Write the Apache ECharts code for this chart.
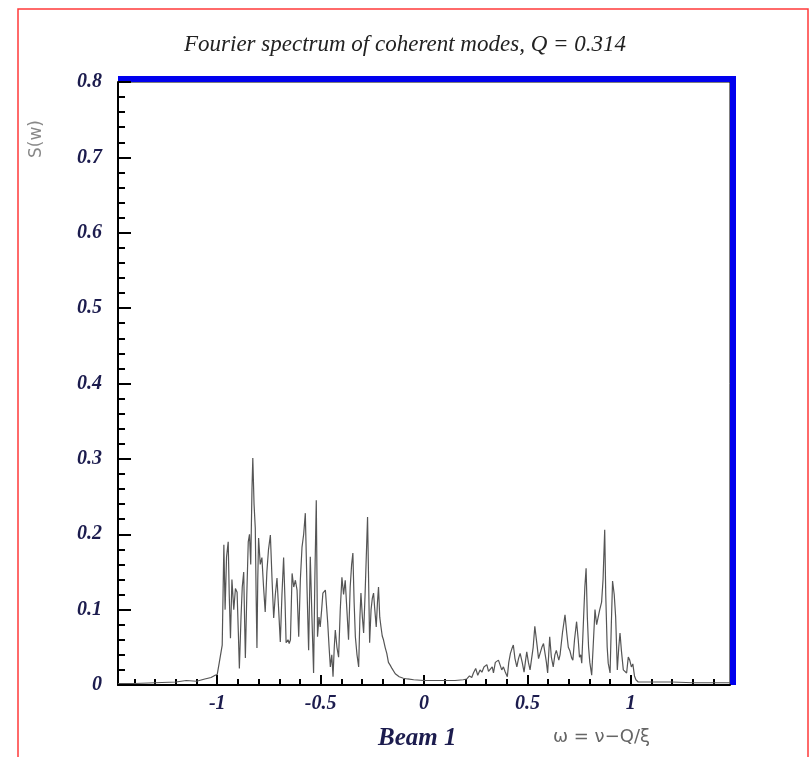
<!DOCTYPE html>
<html>
<head>
<meta charset="utf-8">
<script src="https://cdn.jsdelivr.net/npm/echarts@6/dist/echarts.min.js"></script>
<style>
  html, body { margin: 0; padding: 0; background: #fff; }
  #chart { width: 810px; height: 757px; }
</style>
</head>
<body>
<div id="chart"></div>
<script>
// Spectrum sample points: frequency omega and amplitude S(w)
const omega = [
  -1.48, -1.40, -1.30, -1.20, -1.15, -1.10, -1.06, -1.03, -1.01, -1.00,
  -0.99, -0.976, -0.968, -0.962, -0.955, -0.947, -0.942, -0.936, -0.929, -0.92,
  -0.912, -0.904, -0.898, -0.893, -0.885, -0.879, -0.872, -0.868, -0.864, -0.857,
  -0.850, -0.844, -0.838, -0.832, -0.828, -0.822, -0.816, -0.812, -0.808, -0.804,
  -0.800, -0.792, -0.784, -0.776, -0.768, -0.760, -0.752, -0.743, -0.735, -0.727,
  -0.719, -0.711, -0.703, -0.695, -0.687, -0.679, -0.672, -0.667, -0.658, -0.652,
  -0.646, -0.638, -0.630, -0.622, -0.614, -0.606, -0.598, -0.590, -0.582, -0.574,
  -0.566, -0.558, -0.550, -0.542, -0.534, -0.528, -0.521, -0.515, -0.508, -0.502,
  -0.495, -0.489, -0.477, -0.466, -0.459, -0.453, -0.446, -0.440, -0.434, -0.429,
  -0.421, -0.413, -0.405, -0.397, -0.389, -0.381, -0.373, -0.365, -0.357, -0.350,
  -0.344, -0.338, -0.332, -0.324, -0.316, -0.310, -0.305, -0.298, -0.292, -0.285,
  -0.278, -0.273, -0.268, -0.263, -0.256, -0.250, -0.244, -0.238, -0.231, -0.225,
  -0.220, -0.214, -0.208, -0.202, -0.196, -0.188, -0.180, -0.172, -0.163, -0.155,
  -0.147, -0.139, -0.131, -0.12, -0.10, -0.08, -0.05, 0.0, 0.05, 0.10,
  0.15, 0.19, 0.207, 0.22, 0.231, 0.239, 0.25, 0.26, 0.271, 0.28,
  0.29, 0.304, 0.312, 0.32, 0.33, 0.336, 0.345, 0.36, 0.37, 0.376,
  0.384, 0.392, 0.403, 0.41, 0.418, 0.425, 0.432, 0.44, 0.449, 0.457,
  0.465, 0.475, 0.484, 0.49, 0.497, 0.505, 0.513, 0.521, 0.528, 0.536,
  0.542, 0.548, 0.554, 0.561, 0.57, 0.578, 0.585, 0.592, 0.598, 0.603,
  0.608, 0.616, 0.625, 0.633, 0.64, 0.645, 0.652, 0.658, 0.67, 0.682,
  0.69, 0.698, 0.706, 0.714, 0.72, 0.728, 0.738, 0.746, 0.752, 0.758,
  0.763, 0.772, 0.778, 0.784, 0.79, 0.796, 0.802, 0.811, 0.818, 0.827,
  0.835, 0.843, 0.85, 0.859, 0.866, 0.874, 0.879, 0.886, 0.891, 0.9,
  0.906, 0.912, 0.92, 0.927, 0.935, 0.942, 0.948, 0.955, 0.964, 0.972,
  0.98, 0.988, 0.995, 1.003, 1.01, 1.018, 1.025, 1.036, 1.1, 1.2,
  1.3, 1.4, 1.48
];
const spectrum = [
  0.002, 0.002, 0.003, 0.004, 0.006, 0.005, 0.008, 0.010, 0.013, 0.014,
  0.030, 0.053, 0.186, 0.100, 0.170, 0.190, 0.120, 0.062, 0.140, 0.100,
  0.128, 0.123, 0.070, 0.022, 0.090, 0.130, 0.150, 0.090, 0.036, 0.120,
  0.190, 0.200, 0.160, 0.260, 0.301, 0.240, 0.208, 0.120, 0.049, 0.140,
  0.195, 0.160, 0.169, 0.130, 0.097, 0.150, 0.180, 0.199, 0.140, 0.089,
  0.120, 0.142, 0.100, 0.057, 0.120, 0.169, 0.110, 0.056, 0.060, 0.055,
  0.060, 0.148, 0.130, 0.139, 0.126, 0.064, 0.140, 0.183, 0.200, 0.228,
  0.130, 0.046, 0.170, 0.090, 0.016, 0.140, 0.245, 0.064, 0.090, 0.077,
  0.100, 0.122, 0.126, 0.084, 0.050, 0.024, 0.040, 0.011, 0.050, 0.073,
  0.050, 0.037, 0.100, 0.143, 0.120, 0.139, 0.100, 0.060, 0.130, 0.160,
  0.175, 0.110, 0.064, 0.040, 0.024, 0.090, 0.122, 0.090, 0.069, 0.120,
  0.180, 0.223, 0.140, 0.056, 0.100, 0.115, 0.122, 0.100, 0.077, 0.110,
  0.130, 0.090, 0.077, 0.065, 0.060, 0.050, 0.042, 0.030, 0.026, 0.022,
  0.020, 0.015, 0.013, 0.011, 0.009, 0.008, 0.007, 0.006, 0.006, 0.006,
  0.006, 0.007, 0.008, 0.012, 0.010, 0.016, 0.022, 0.013, 0.020, 0.017,
  0.024, 0.027, 0.018, 0.017, 0.024, 0.016, 0.030, 0.033, 0.025, 0.020,
  0.024, 0.018, 0.011, 0.030, 0.042, 0.048, 0.053, 0.035, 0.024, 0.035,
  0.042, 0.030, 0.017, 0.030, 0.044, 0.030, 0.020, 0.020, 0.050, 0.078,
  0.077, 0.050, 0.035, 0.037, 0.050, 0.055, 0.056, 0.030, 0.016, 0.040,
  0.064, 0.037, 0.024, 0.040, 0.046, 0.046, 0.033, 0.040, 0.070, 0.093,
  0.070, 0.050, 0.045, 0.036, 0.033, 0.060, 0.084, 0.060, 0.037, 0.040,
  0.029, 0.090, 0.130, 0.155, 0.090, 0.050, 0.030, 0.013, 0.050, 0.100,
  0.080, 0.080, 0.100, 0.110, 0.140, 0.206, 0.120, 0.050, 0.029, 0.016,
  0.080, 0.138, 0.120, 0.090, 0.020, 0.050, 0.069, 0.045, 0.020, 0.018,
  0.016, 0.037, 0.033, 0.024, 0.028, 0.012, 0.007, 0.004, 0.004, 0.004,
  0.003, 0.003, 0.003
];
// Axis ranges and tick positions
const xRange = [-1.48, 1.48];
const xMajorTicks = [-1, -0.5, 0, 0.5, 1];
const xMinorTicks = [-1.4, -1.3, -1.2, -1.1, -0.9, -0.8, -0.7, -0.6, -0.4, -0.3, -0.2, -0.1,
                     0.1, 0.2, 0.3, 0.4, 0.6, 0.7, 0.8, 0.9, 1.1, 1.2, 1.3, 1.4];
const yRange = [0, 0.8];
const yStep = 0.1;

const titleText = 'Fourier spectrum of coherent modes, Q = 0.314';
const yName = 'S(w)';
const beamText = 'Beam 1';
const xName = 'ω = ν−Q/ξ';

const labelColor = '#1c1c4e';
const labelFont = { fontFamily: 'Liberation Serif', fontStyle: 'italic', fontWeight: 'bold', fontSize: 20, color: labelColor };

const chart = echarts.init(document.getElementById('chart'), null, { renderer: 'canvas' });
const grid = { left: 118, right: 80, top: 82, bottom: 72 };

chart.setOption({
  animation: false,
  backgroundColor: '#fff',
  title: {
    text: titleText,
    left: 'center',
    top: 28,
    textStyle: { fontFamily: 'Liberation Serif', fontStyle: 'italic', fontWeight: 'normal', fontSize: 23, color: '#222' }
  },
  grid: Object.assign({ show: true, borderColor: '#000', borderWidth: 1, backgroundColor: 'transparent' }, grid),
  xAxis: [
    {
      type: 'value', min: xRange[0], max: xRange[1],
      axisLine: { show: true, onZero: false, lineStyle: { color: '#000', width: 2 } },
      axisTick: { show: true, inside: true, length: 10, customValues: xMajorTicks, lineStyle: { color: '#000', width: 2 } },
      axisLabel: Object.assign({ show: true, margin: 9, customValues: xMajorTicks }, labelFont),
      splitLine: { show: false }
    },
    {
      type: 'value', min: xRange[0], max: xRange[1], position: 'bottom',
      axisLine: { show: false },
      axisTick: { show: true, inside: true, length: 6, customValues: xMinorTicks, lineStyle: { color: '#000', width: 2 } },
      axisLabel: { show: false },
      splitLine: { show: false }
    }
  ],
  yAxis: {
    type: 'value', min: yRange[0], max: yRange[1], interval: yStep,
    axisLine: { show: true, onZero: false, lineStyle: { color: '#000', width: 2 } },
    axisTick: { show: true, inside: true, length: 13, lineStyle: { color: '#000', width: 2 } },
    minorTick: { show: true, splitNumber: 5, length: 7, lineStyle: { color: '#000', width: 2 } },
    axisLabel: Object.assign({ margin: 16 }, labelFont),
    splitLine: { show: false }
  },
  series: [{
    type: 'line',
    xAxisIndex: 0,
    data: omega.map((w, i) => [w, spectrum[i]]),
    showSymbol: false,
    symbol: 'none',
    lineStyle: { color: '#555', width: 1.2 },
    z: 3
  }],
  graphic: [
    // page frame
    { type: 'polyline', silent: true, shape: { points: [[18, 770], [18, 9], [808, 9], [808, 770]] },
      style: { stroke: '#ff3a3a', lineWidth: 1.5, fill: null } },
    // shaded top/right plot border
    { type: 'polyline', silent: true, shape: { points: [[118, 79], [733, 79], [733, 685]] },
      style: { stroke: '#0000ee', lineWidth: 6, lineJoin: 'miter', fill: null } },
    { type: 'text', silent: true, x: 28, y: 158, rotation: Math.PI / 2,
      style: { text: yName, font: '17px "DejaVu Sans"', fill: '#888' } },
    { type: 'text', silent: true, left: 378, top: 726,
      style: { text: beamText, font: 'italic bold 25px "Liberation Serif"', fill: labelColor } },
    { type: 'text', silent: true, left: 553, top: 728,
      style: { text: xName, font: '18px "DejaVu Sans"', fill: '#666' } }
  ]
});
</script>
</body>
</html>
